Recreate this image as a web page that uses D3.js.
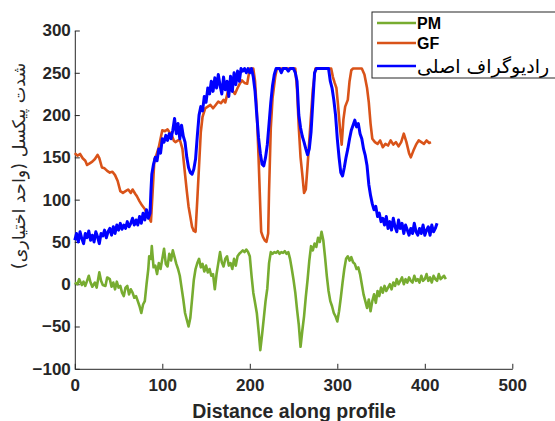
<!DOCTYPE html>
<html lang="en">
<head>
<meta charset="UTF-8">
<script src="https://d3js.org/d3.v7.min.js"></script>
<title>Profile</title>
<style>
body { margin: 0; background: #fff; }
svg { display: block; background: #fff; }
.tick text { font-family: 'Liberation Sans', Arial, sans-serif; font-weight: bold; font-size: 17px; fill: #262626; }
.tick line, .domain { stroke: #262626; }
</style>
</head>
<body>
<svg id="canvas"></svg>
<script>
// legend labels
let seriesNames = ['PM', 'GF', 'رادیوگراف اصلی']
let xTicks = [0, 100, 200, 300, 400, 500]
let yTicks = [-100, -50, 0, 50, 100, 150, 200, 250, 300]

// PM
let pm = [[0,2],[3,0],[5,6],[8,-1],[10,3],[12,-2],[14,4],[16,10],[18,2],[20,-3],[23,2],[25,-4],[28,14],[30,4],[32,-1],[35,-2],[37,8],[40,6],[42,-3],[44,2],[46,-6],[48,3],[50,-4],[52,-2],[54,-10],[56,-14],[58,-4],[60,-2],[62,-12],[64,-6],[66,-10],[68,-16],[70,-14],[72,-20],[74,-26],[76,-34],[78,-24],[80,-20],[82,0],[84,18],[85,33],[87,30],[88,45],[90,20],[92,22],[94,12],[96,25],[98,18],[100,30],[102,42],[104,24],[106,21],[108,36],[110,28],[112,40],[114,32],[116,24],[118,18],[120,10],[122,-4],[124,-18],[126,-34],[128,-42],[130,-50],[132,-40],[134,-18],[136,5],[138,18],[140,25],[142,30],[144,20],[146,24],[148,15],[150,22],[152,14],[154,18],[156,10],[158,12],[160,-6],[162,12],[164,25],[166,38],[168,26],[170,21],[172,30],[174,33],[176,22],[178,25],[180,18],[182,30],[184,22],[186,33],[188,36],[190,38],[192,40],[194,38],[196,41],[198,38],[200,33],[202,10],[204,-10],[206,-22],[208,-34],[210,-55],[212,-78],[214,-60],[216,-40],[218,-20],[220,-5],[222,25],[224,38],[226,36],[228,38],[230,37],[232,39],[234,36],[236,38],[238,37],[240,39],[242,36],[244,38],[246,30],[248,18],[250,5],[252,-10],[254,-30],[256,-48],[258,-74],[260,-55],[262,-38],[264,-15],[266,5],[268,28],[270,45],[272,40],[274,48],[276,44],[278,55],[280,50],[282,62],[284,52],[286,32],[288,10],[290,-8],[292,-20],[294,-26],[296,-34],[298,-38],[300,-44],[302,-32],[304,-16],[306,2],[308,18],[310,30],[312,33],[314,28],[316,32],[318,26],[320,24],[322,18],[324,20],[326,12],[328,0],[330,-12],[332,-20],[334,-28],[336,-18],[338,-32],[340,-20],[342,-12],[344,-22],[346,-8],[348,-14],[350,-4],[352,-10],[354,-2],[356,-8],[358,-4],[360,0],[362,-6],[364,2],[366,-2],[368,6],[370,0],[372,4],[374,8],[376,0],[378,6],[380,2],[382,8],[384,4],[386,2],[388,10],[390,4],[392,6],[394,2],[396,10],[398,4],[400,6],[402,12],[404,4],[406,8],[408,2],[410,10],[412,6],[414,4],[416,12],[418,6],[420,8],[422,10],[424,6]]

// GF
let gf = [[0,155],[3,152],[6,154],[9,149],[12,146],[14,141],[17,143],[20,145],[23,148],[26,153],[28,149],[31,138],[34,137],[37,134],[40,132],[43,133],[46,129],[49,122],[52,110],[55,108],[58,110],[61,112],[64,108],[66,112],[69,107],[71,104],[74,98],[77,93],[80,89],[83,82],[85,78],[87,74],[89,110],[91,148],[93,152],[96,162],[98,172],[100,182],[103,181],[106,183],[108,180],[111,176],[113,170],[115,168],[118,170],[120,171],[123,160],[126,130],[128,110],[130,92],[132,80],[134,68],[136,63],[138,62],[140,100],[142,140],[144,180],[146,198],[149,208],[152,210],[155,212],[158,208],[161,212],[164,216],[167,214],[170,218],[172,215],[175,228],[178,232],[181,228],[183,225],[186,232],[189,238],[191,241],[194,238],[197,237],[200,255],[204,255],[206,240],[208,205],[210,150],[212,90],[213,62],[215,56],[217,52],[219,50],[221,60],[222,110],[224,185],[226,220],[229,245],[231,255],[252,255],[254,230],[256,185],[258,150],[260,130],[262,108],[264,112],[266,140],[268,170],[270,200],[272,230],[275,255],[293,255],[295,245],[297,238],[299,232],[301,210],[303,185],[305,165],[307,195],[309,210],[312,218],[314,240],[316,253],[318,255],[328,255],[331,248],[334,232],[336,215],[338,190],[340,172],[343,168],[346,166],[349,170],[352,162],[355,166],[358,164],[361,170],[364,165],[367,168],[370,163],[373,168],[376,178],[379,168],[382,155],[384,150],[387,158],[390,165],[393,170],[396,168],[399,166],[402,170],[405,167],[407,168]]

// original radiograph
let orig = [[0,52],[2,60],[4,50],[6,62],[8,54],[10,48],[12,60],[14,55],[16,63],[18,52],[20,58],[22,50],[24,62],[26,56],[28,48],[30,60],[32,57],[34,64],[36,55],[38,62],[40,66],[42,58],[44,68],[46,60],[48,70],[50,64],[52,72],[54,65],[56,70],[58,66],[60,74],[62,68],[64,72],[66,78],[68,70],[70,76],[72,70],[74,80],[76,72],[78,84],[80,76],[82,88],[84,78],[86,84],[87,110],[88,130],[90,142],[92,150],[94,146],[96,160],[98,155],[100,172],[102,168],[104,176],[106,170],[108,178],[110,172],[112,182],[114,196],[116,178],[118,190],[120,172],[122,188],[124,175],[126,168],[128,150],[130,138],[132,132],[134,130],[136,136],[138,148],[140,175],[142,200],[144,210],[146,205],[148,222],[150,215],[152,232],[154,225],[156,240],[158,228],[160,244],[162,232],[164,248],[166,235],[168,225],[170,245],[172,230],[174,240],[176,222],[178,246],[180,228],[182,250],[184,236],[186,252],[188,240],[190,255],[192,252],[194,255],[196,250],[198,255],[200,250],[202,255],[204,245],[206,228],[208,200],[210,173],[212,155],[214,142],[216,140],[218,150],[220,165],[222,190],[224,215],[226,235],[228,248],[230,255],[234,255],[236,250],[238,255],[242,255],[244,252],[246,255],[250,255],[252,250],[254,240],[256,200],[258,185],[260,175],[262,168],[264,160],[266,153],[268,160],[270,180],[272,215],[274,250],[276,255],[290,255],[292,240],[294,232],[296,218],[298,200],[300,172],[302,150],[304,132],[306,128],[308,138],[310,150],[312,160],[314,172],[316,182],[318,188],[320,194],[322,186],[324,190],[326,178],[328,172],[330,160],[332,152],[334,140],[336,118],[338,105],[340,95],[342,88],[344,92],[346,80],[348,84],[350,74],[352,78],[354,70],[356,80],[358,66],[360,74],[362,64],[364,78],[366,68],[368,62],[370,76],[372,66],[374,72],[376,60],[378,70],[380,64],[382,58],[384,66],[386,60],[388,72],[390,62],[392,58],[394,66],[396,60],[398,70],[400,58],[402,64],[404,68],[406,58],[408,70],[410,62],[412,66],[414,72]]

let width = 555
let height = 421

let svg = d3.select('#canvas')
    .attr('width', width)
    .attr('height', height)

let xScale = d3.scaleLinear().domain([0, 500]).range([74.8, 512.3])
let yScale = d3.scaleLinear().domain([-100, 300]).range([368.8, 30.5])

let xAxis = d3.axisBottom(xScale)
    .tickValues(xTicks)
    .tickSizeInner(-5)
    .tickSizeOuter(0)
    .tickPadding(10)

let yAxis = d3.axisLeft(yScale)
    .tickValues(yTicks)
    .tickSizeInner(-5)
    .tickSizeOuter(0)
    .tickPadding(4)

svg.append('g')
    .attr('transform', 'translate(0,' + yScale(-100) + ')')
    .call(xAxis)

svg.append('g')
    .attr('transform', 'translate(' + xScale(0) + ',0)')
    .call(yAxis)

let line = d3.line()
    .x(d => xScale(d[0]))
    .y(d => yScale(d[1]))

let series = [
    {data: pm, color: '#77AC30', w: 2.6},
    {data: gf, color: '#D95319', w: 2.6},
    {data: orig, color: '#0000FF', w: 3}
]

series.forEach(s => {
    svg.append('path')
        .datum(s.data)
        .attr('fill', 'none')
        .attr('stroke', s.color)
        .attr('stroke-width', s.w)
        .attr('stroke-linejoin', 'round')
        .attr('d', line)
})

// axis labels
svg.append('text')
    .attr('x', 294)
    .attr('y', 418)
    .attr('text-anchor', 'middle')
    .style('font-family', "'Liberation Sans', Arial, sans-serif")
    .style('font-weight', 'bold')
    .style('font-size', '19.5px')
    .attr('fill', '#262626')
    .text('Distance along profile')

svg.append('text')
    .attr('transform', 'translate(25,166) rotate(-90)')
    .attr('text-anchor', 'middle')
    .style('font-family', "'DejaVu Sans', sans-serif")
    .style('font-size', '17.5px')
    .attr('fill', '#262626')
    .text('شدت پیکسل (واحد اختیاری)')

// legend
let legend = svg.append('g')
legend.append('rect')
    .attr('x', 372).attr('y', 12)
    .attr('width', 190).attr('height', 66)
    .attr('fill', '#fff')
    .attr('stroke', '#262626')
    .attr('stroke-width', 1)

let rowsY = [23, 43, 66]
series.forEach((s, i) => {
    legend.append('line')
        .attr('x1', 377).attr('x2', 416)
        .attr('y1', rowsY[i]).attr('y2', rowsY[i])
        .attr('stroke', s.color)
        .attr('stroke-width', 2.6)
    legend.append('text')
        .attr('x', 417)
        .attr('y', rowsY[i])
        .attr('dy', '0.36em')
        .style('font-family', i < 2 ? "'Liberation Sans', Arial, sans-serif" : "'DejaVu Sans', sans-serif")
        .style('font-weight', i < 2 ? 'bold' : 'normal')
        .style('font-size', i < 2 ? '16px' : '19px')
        .attr('fill', '#000')
        .text(seriesNames[i])
})
</script>
</body>
</html>
